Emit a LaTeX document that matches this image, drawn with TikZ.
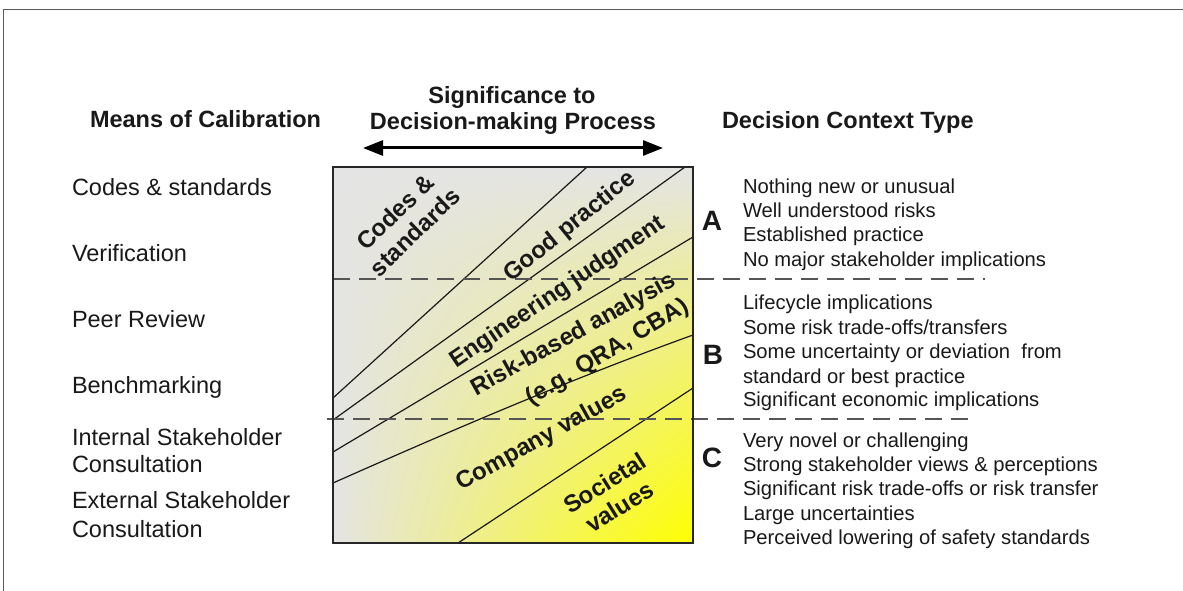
\documentclass[tikz,border=0pt]{standalone}
\usepackage{fontspec}
\setmainfont{Liberation Sans}
\usetikzlibrary{arrows.meta,shadings}
\definecolor{boxgray}{RGB}{228,228,228}
\definecolor{frameg}{RGB}{90,90,90}
\definecolor{dashg}{RGB}{85,85,85}
\definecolor{txt}{RGB}{25,25,25}
\begin{document}
\begin{tikzpicture}[x=1pt,y=-1pt,
  every node/.style={inner sep=0pt, outer sep=0pt, text=txt},
  headtxt/.style={font=\fontsize{23.5}{27}\selectfont\bfseries},
  lefttxt/.style={anchor=base west, font=\fontsize{23.5}{27}\selectfont},
  ctxtxt/.style={anchor=base west, font=\fontsize{20.2}{24}\selectfont},
  lettertxt/.style={font=\fontsize{28}{30}\selectfont\bfseries},
  bandtxt/.style={font=\fontsize{24}{28}\selectfont\bfseries, align=center},
  sepline/.style={draw=dashg, line width=2pt, dash pattern=on 17pt off 9pt},
  bandline/.style={draw=black!90, line width=1.2pt}]

\useasboundingbox (0,0) rectangle (1183,591);
\fill[white] (0,0) rectangle (1183,591);
\draw[frameg, line width=1.5pt] (3.5,591) -- (3.5,9.5) -- (1183,9.5);

% headers
\node[headtxt, anchor=base west] (hMeans) at (90,128) {Means of Calibration};
\node[headtxt, anchor=base] (hSig1) at (512,104) {Significance to};
\node[headtxt, anchor=base] (hSig2) at (513,130) {Decision-making Process};
\node[headtxt, anchor=base west] (hCtx) at (722,129) {Decision Context Type};

% arrow
\coordinate (aL) at (363,148);
\coordinate (aR) at (663,148);
\draw[line width=3pt, {Triangle[length=20pt,width=15pt]}-{Triangle[length=20pt,width=15pt]}] (aL) -- (aR);

% left list
\node[lefttxt] (m1) at (72,195) {Codes \& standards};
\node[lefttxt] (m2) at (72,261) {Verification};
\node[lefttxt] (m3) at (72,327) {Peer Review};
\node[lefttxt] (m4) at (72,393) {Benchmarking};
\node[lefttxt] (m5a) at (72,445) {Internal Stakeholder};
\node[lefttxt] (m5b) at (72,472) {Consultation};
\node[lefttxt] (m6a) at (72,508) {External Stakeholder};
\node[lefttxt] (m6b) at (72,537) {Consultation};

% central box
\coordinate (bTL) at (333,167);
\coordinate (bBR) at (693,543);
\shade[upper left=boxgray, upper right=boxgray, lower left=boxgray, lower right=yellow] (bTL) rectangle (bBR);

\coordinate (l1a) at (333,398); \coordinate (l1b) at (587,167);
\coordinate (l2a) at (333,420); \coordinate (l2b) at (685,167);
\coordinate (l3a) at (333,452); \coordinate (l3b) at (693,237);
\coordinate (l4a) at (333,483); \coordinate (l4b) at (693,335);
\coordinate (l5a) at (458,543); \coordinate (l5b) at (693,388);
\draw[bandline] (l1a) -- (l1b);
\draw[bandline] (l2a) -- (l2b);
\draw[bandline] (l3a) -- (l3b);
\draw[bandline] (l4a) .. controls (430,440) and (560,383) .. (l4b);
\draw[bandline] (l5a) -- (l5b);

\coordinate (d1a) at (333,279); \coordinate (d1b) at (985,279);
\coordinate (d2a) at (327,419); \coordinate (d2b) at (975,419);
\draw[sepline] (d1a) -- (d1b);
\draw[sepline] (d2a) -- (d2b);

\draw[line width=1.5pt, black!85] (bTL) rectangle (bBR);

\node[bandtxt, rotate=44] (tCodes) at (405,222) {Codes \&\\standards};
\node[bandtxt, rotate=39] (tGood) at (570,227) {Good practice};
\node[bandtxt, rotate=34] (tEng) at (558,293) {Engineering judgment};
\node[bandtxt, rotate=29] (tRisk1) at (574,335) {Risk-based analysis};
\node[bandtxt, rotate=31] (tRisk2) at (608,353) {(e.g. QRA, CBA)};
\node[bandtxt, rotate=29] (tComp) at (542,439) {Company values};
\node[bandtxt, rotate=32] (tSoc) at (612,495) {Societal\\values};

% letters
\node[lettertxt] (lA) at (712,221) {A};
\node[lettertxt] (lB) at (713,355) {B};
\node[lettertxt] (lC) at (712,458) {C};

% context lists
\node[ctxtxt] (a1) at (743,193) {Nothing new or unusual};
\node[ctxtxt] (a2) at (743,217) {Well understood risks};
\node[ctxtxt] (a3) at (743,241) {Established practice};
\node[ctxtxt] (a4) at (743,266) {No major stakeholder implications};

\node[ctxtxt] (b1) at (743,309) {Lifecycle implications};
\node[ctxtxt] (b2) at (743,334) {Some risk trade-offs/transfers};
\node[ctxtxt] (b3) at (743,358) {Some uncertainty or deviation\ \ from};
\node[ctxtxt] (b4) at (743,383) {standard or best practice};
\node[ctxtxt] (b5) at (743,406) {Significant economic implications};

\node[ctxtxt] (c1) at (743,447) {Very novel or challenging};
\node[ctxtxt] (c2) at (743,471) {Strong stakeholder views \& perceptions};
\node[ctxtxt] (c3) at (743,495) {Significant risk trade-offs or risk transfer};
\node[ctxtxt] (c4) at (743,520) {Large uncertainties};
\node[ctxtxt] (c5) at (743,544) {Perceived lowering of safety standards};
\end{tikzpicture}
\end{document}
